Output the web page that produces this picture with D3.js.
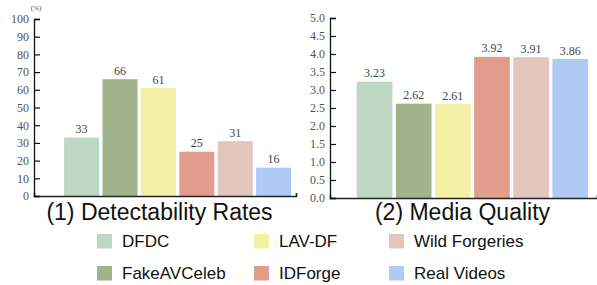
<!DOCTYPE html>
<html>
<head>
<meta charset="utf-8">
<script src="https://cdn.jsdelivr.net/npm/d3@7"></script>
<style>
  body { margin: 0; background: #fff; }
  svg { display: block; }
  .tick text { font-family: "Liberation Serif", "DejaVu Serif", serif; font-size: 12px; fill: #555; }
</style>
</head>
<body>
<div id="chart"></div>
<script>
// ------------------------------------------------------------------
// data
const categories = ["DFDC", "FakeAVCeleb", "LAV-DF", "IDForge", "Wild Forgeries", "Real Videos"]
const colors = ["#bdd7c2", "#a1b38b", "#f3f0a6", "#e19c8b", "#e2c5bd", "#afcaf5"]
const detect_values = [33, 66, 61, 25, 31, 16]
const quality_values = [3.23, 2.62, 2.61, 3.92, 3.91, 3.86]
const detect_ticks = [0, 10, 20, 30, 40, 50, 60, 70, 80, 90, 100]
const quality_ticks = [0, 0.5, 1.0, 1.5, 2.0, 2.5, 3.0, 3.5, 4.0, 4.5, 5.0]
const titles = ["(1) Detectability Rates", "(2) Media Quality"]

const svg = d3.select("#chart").append("svg")
    .attr("width", 597)
    .attr("height", 285)

// ------------------------------------------------------------------
function bar_panel (cfg)
{
  const x = d3.scaleBand()
      .domain(categories)
      .range([cfg.left, cfg.right])
      .paddingInner(0.089)
      .paddingOuter(0.456)
      .align(cfg.align)

  const y = d3.scaleLinear()
      .domain([0, cfg.max])
      .range([cfg.bottom, cfg.top])

  const g = svg.append("g")

  // bars
  g.selectAll(".bar")
      .data(cfg.values)
    .enter().append("rect")
      .attr("class", "bar")
      .attr("x", (d, i) => x(categories[i]))
      .attr("y", d => y(d))
      .attr("width", x.bandwidth())
      .attr("height", d => cfg.bottom - y(d))
      .attr("fill", (d, i) => colors[i])

  // value labels
  g.selectAll(".val")
      .data(cfg.values)
    .enter().append("text")
      .attr("x", (d, i) => x(categories[i]) + x.bandwidth() / 2)
      .attr("y", d => y(d) - 4.5)
      .attr("text-anchor", "middle")
      .style("font-family", "'Liberation Serif', serif")
      .style("font-size", "12px")
      .style("fill", "#444")
      .text(d => cfg.val_fmt(d))

  // x axis (baseline only)
  const xa = g.append("g")
      .attr("transform", "translate(0," + cfg.bottom + ")")
      .call(d3.axisBottom(x).tickValues([]).tickSizeOuter(-3))
  xa.select(".domain").attr("stroke", "#222").attr("stroke-width", 1.6)

  // y axis, ticks pointing inward
  const ya = g.append("g")
      .attr("transform", "translate(" + cfg.left + ",0)")
      .call(d3.axisLeft(y).tickValues(cfg.ticks).tickSize(-6).tickPadding(5).tickFormat(cfg.tick_fmt))
  ya.select(".domain").attr("stroke", "#111").attr("stroke-width", 1.3)
  ya.selectAll(".tick line").attr("stroke", "#111").attr("stroke-width", 1.2)

  // title
  svg.append("text")
      .attr("x", cfg.title_x)
      .attr("y", 220)
      .attr("text-anchor", "middle")
      .style("font-family", "'Liberation Sans', Arial, sans-serif")
      .style("font-size", "23px")
      .style("fill", "#111")
      .text(cfg.title)
}

bar_panel({left: 34, right: 296, top: 19, bottom: 196, align: 0.86, max: 100,
  values: detect_values, ticks: detect_ticks,
  tick_fmt: d3.format("d"), val_fmt: d3.format("d"),
  title: titles[0], title_x: 159.5})

bar_panel({left: 330, right: 597, top: 18, bottom: 198, align: 0.75, max: 5,
  values: quality_values, ticks: quality_ticks,
  tick_fmt: d3.format(".1f"), val_fmt: d3.format(".2f"),
  title: titles[1], title_x: 462.5})

// unit label
svg.append("text")
    .attr("x", 36)
    .attr("y", 9.5)
    .attr("text-anchor", "middle")
    .style("font-family", "'Liberation Serif', serif")
    .style("font-size", "7px")
    .style("fill", "#444")
    .text("(%)")

// ------------------------------------------------------------------
// legend: two rows, filled column by column
const legend_x = [97, 254, 389]
const legend_y = [234, 266]

const lg = svg.selectAll(".legend")
    .data(categories)
  .enter().append("g")
    .attr("class", "legend")
    .attr("transform", (d, i) => "translate(" + legend_x[Math.floor(i / 2)] + "," + legend_y[i % 2] + ")")

lg.append("rect")
    .attr("width", 15)
    .attr("height", 14.5)
    .attr("fill", (d, i) => colors[i])

lg.append("text")
    .attr("x", 25)
    .attr("y", 13)
    .style("font-family", "'Liberation Sans', Arial, sans-serif")
    .style("font-size", "17px")
    .style("fill", "#111")
    .text(d => d)
</script>
</body>
</html>
